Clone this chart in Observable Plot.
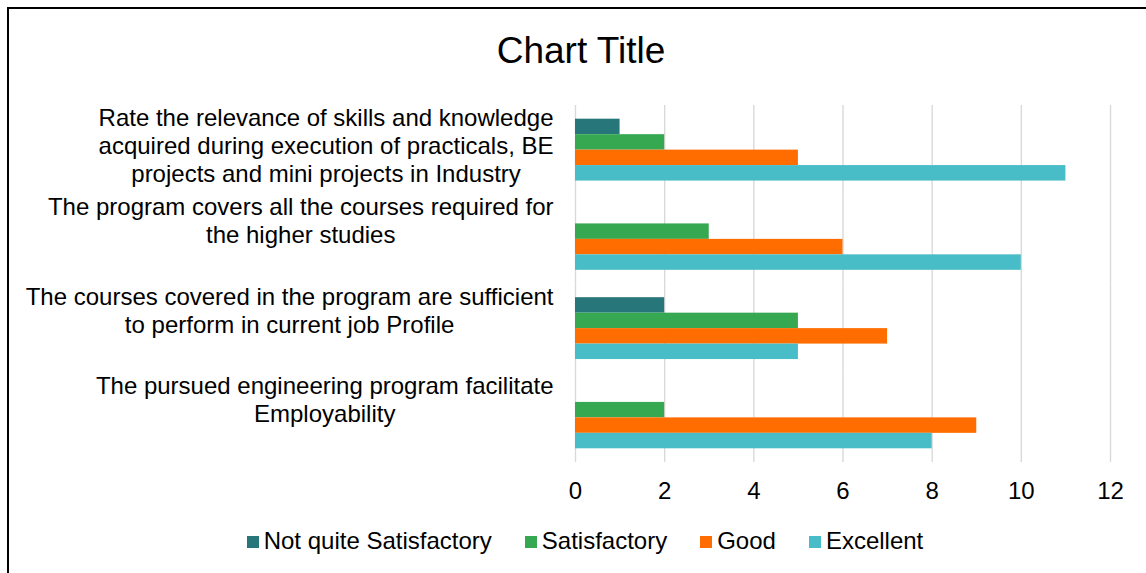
<!DOCTYPE html>
<html>
<head>
<meta charset="utf-8">
<script src="https://cdn.jsdelivr.net/npm/d3@7"></script>
<script src="https://cdn.jsdelivr.net/npm/@observablehq/plot@0.6"></script>
<style>
  html, body { margin: 0; padding: 0; background: #fff; width: 1146px; height: 573px; overflow: hidden; }
  body { position: relative; font-family: "Liberation Sans", Arial, sans-serif; color: #000; }
  #frame { position: absolute; left: 7px; top: 7px; width: 1200px; height: 620px; border: 2px solid #000; box-sizing: border-box; }
  #title { position: absolute; left: 0; top: 32px; width: 1162px; text-align: center; font-size: 37px; line-height: 37px; }
  #chart { position: absolute; left: 0; top: 80px; }
  #legend { position: absolute; left: 0; top: 529px; width: 1170px; display: flex; justify-content: center; align-items: center; font-size: 24px; line-height: 24px; }
  .item { display: flex; align-items: center; margin-right: 33px; white-space: nowrap; }
  .item:last-child { margin-right: 0; }
  .sw { width: 12px; height: 12px; margin-right: 5px; position: relative; top: 1px; }
</style>
</head>
<body>
<div id="frame"></div>
<div id="title">Chart Title</div>
<div id="chart"></div>
<div id="legend"></div>
<script>
// ---- data ----
const categories = [
  "Rate the relevance of skills and knowledge acquired during execution of practicals, BE projects and mini projects in Industry",
  "The program covers all the courses required for the higher studies",
  "The courses covered in the program are sufficient to perform in current job Profile",
  "The pursued engineering program facilitate Employability"
];
const categoryLines = [
  ["Rate the relevance of skills and knowledge", "acquired during execution of practicals, BE", "projects and mini projects in Industry"],
  ["The program covers all the courses required for", "the higher studies"],
  ["The courses covered in the program are sufficient", "to perform in current job Profile"],
  ["The pursued engineering program facilitate", "Employability"]
];
const series = ["Not quite Satisfactory", "Satisfactory", "Good", "Excellent"];
const notQuiteSatisfactory = [1, 0, 2, 0];
const satisfactory = [2, 3, 5, 2];
const good = [5, 6, 7, 9];
const excellent = [11, 10, 5, 8];
const colors = ["#26767a", "#36a852", "#ff6d00", "#48bcc7"];
const xTicks = [0, 2, 4, 6, 8, 10, 12];

// ---- table ----
const seriesValues = [notQuiteSatisfactory, satisfactory, good, excellent];
const rows = [];
categories.forEach((c, ci) => {
  series.forEach((s, si) => rows.push({category: c, series: s, value: seriesValues[si][ci]}));
});

// measure label blocks: lines centred within a right-aligned block
const ctx = document.createElement("canvas").getContext("2d");
const FONT_PX = 24;
ctx.font = `${FONT_PX}px "Liberation Sans", Arial`;
const labelMarks = categoryLines.map((lines, ci) => {
  const w = d3.max(lines, l => ctx.measureText(l).width);
  return Plot.text([{category: categories[ci], text: lines.join("\n")}], {
    fy: "category",
    text: "text",
    frameAnchor: "left",
    textAnchor: "middle",
    lineAnchor: "top",
    lineHeight: 28 / FONT_PX,
    fontSize: FONT_PX,
    fill: "#000",
    dx: -(22 + w / 2),
    dy: -44
  });
});

const chart = Plot.plot({
  width: 1146,
  height: 440,
  marginTop: 25,
  marginBottom: 58,
  marginLeft: 575,
  marginRight: 36,
  style: {fontFamily: '"Liberation Sans", Arial, sans-serif', fontSize: "24px", color: "#000", background: "transparent", overflow: "visible"},
  x: {domain: [0, 12], ticks: xTicks, tickSize: 0, tickPadding: 19, label: null, tickFormat: d => String(d)},
  y: {domain: series, paddingInner: 0, paddingOuter: 0.886, round: false, axis: null},
  fy: {domain: categories, padding: 0, round: false, axis: null, label: null},
  color: {domain: series, range: colors},
  marks: [
    Plot.ruleX(xTicks, {stroke: "#d9d9d9", strokeWidth: 1.4}),
    Plot.barX(rows, {fy: "category", y: "series", x: "value", fill: "series", insetTop: 0, insetBottom: 0}),
    ...labelMarks
  ]
});
document.getElementById("chart").appendChild(chart);

// legend
const legend = document.getElementById("legend");
series.forEach((s, i) => {
  const item = document.createElement("div");
  item.className = "item";
  const sw = document.createElement("span");
  sw.className = "sw";
  sw.style.background = colors[i];
  const t = document.createElement("span");
  t.textContent = s;
  item.appendChild(sw);
  item.appendChild(t);
  legend.appendChild(item);
});
</script>
</body>
</html>
